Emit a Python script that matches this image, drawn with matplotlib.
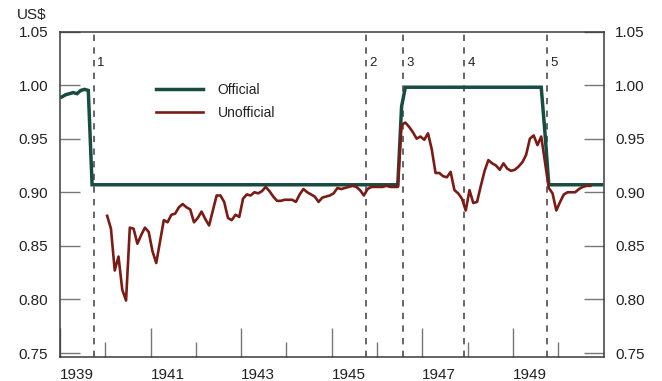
import numpy as np, matplotlib
matplotlib.use("Agg")
import matplotlib.pyplot as plt
from matplotlib.ticker import FixedLocator, NullFormatter

plt.rcParams["font.family"] = ["Liberation Sans", "DejaVu Sans"]

# official rate (US$ per C$), change points only, monthly (year, month)
off_months = [(1939,1),(1939,2),(1939,3),(1939,4),(1939,5),(1939,6),(1939,7),(1939,8),(1939,9),
              (1946,6),(1946,7),(1946,8),(1949,8),(1949,9),(1949,10),(1950,12)]
off_vals = [0.989,0.991,0.992,0.993,0.992,0.995,0.996,0.995,0.907,
            0.907,0.980,0.998,0.998,0.955,0.907,0.907]

# unofficial (free market) rate, monthly from Jan 1940
unoff_start = 1940
unoff_vals = [
    0.878,0.866,0.827,0.840,0.809,0.799,0.867,0.866,0.852,0.860,0.867,0.863,  # 1940
    0.845,0.834,0.854,0.874,0.872,0.879,0.880,0.886,0.889,0.886,0.884,0.872,  # 1941
    0.876,0.882,0.875,0.869,0.883,0.897,0.897,0.891,0.876,0.874,0.879,0.877,  # 1942
    0.894,0.898,0.897,0.900,0.899,0.901,0.905,0.901,0.896,0.892,0.892,0.893,  # 1943
    0.893,0.893,0.891,0.898,0.903,0.900,0.898,0.896,0.891,0.895,0.896,0.897,  # 1944
    0.899,0.904,0.903,0.904,0.905,0.906,0.905,0.902,0.897,0.903,0.905,0.905,  # 1945
    0.905,0.905,0.906,0.905,0.905,0.905,0.963,0.965,0.961,0.956,0.950,0.952,  # 1946
    0.949,0.955,0.940,0.918,0.918,0.915,0.914,0.919,0.902,0.899,0.894,0.883,  # 1947
    0.902,0.890,0.891,0.906,0.920,0.930,0.927,0.925,0.921,0.927,0.922,0.920,  # 1948
    0.921,0.924,0.928,0.935,0.950,0.953,0.944,0.952,0.928,0.904,0.899,0.883,  # 1949
    0.891,0.898,0.900,0.900,0.900,0.903,0.905,0.906,0.906]                    # 1950

events = [1939.74, 1945.75, 1946.58, 1947.92, 1949.76]
event_labels = ["1", "2", "3", "4", "5"]
yticks = [0.75, 0.80, 0.85, 0.90, 0.95, 1.00, 1.05]
major_years = [1939, 1941, 1943, 1945, 1947, 1949]
minor_years = [1940, 1942, 1944, 1946, 1948, 1950]

C_OFF = "#184c41"; C_UN = "#7a1c15"; C_DASH = "#5a5a5a"; C_AX = "#3a3a3a"; C_TXT = "#222222"

t_off = [y + (m - 0.5) / 12 for y, m in off_months]
t_un = unoff_start + (np.arange(len(unoff_vals)) + 0.5) / 12

fig = plt.figure(figsize=(6.62, 3.81), dpi=100)
ax = fig.add_axes([60/662, 1-357/381, 543.5/662, 325.5/381])
ax.set_xlim(1939, 1951); ax.set_ylim(0.7463, 1.05)

# event markers
for x in events:
    ax.axvline(x, color=C_DASH, lw=1.3, ls=(0, (3.5, 3.5)), zorder=1)
for x, s in zip(events, event_labels):
    ax.annotate(s, (x, 1.0205), xytext=(2.5, 0), textcoords="offset points",
                ha="left", va="center", fontsize=9.5, color=C_TXT)

ax.plot(t_off, off_vals, color=C_OFF, lw=2.5, label="Official", zorder=3, solid_joinstyle="miter")
ax.plot(t_un, unoff_vals, color=C_UN, lw=1.9, label="Unofficial", zorder=4)

for s in ax.spines.values():
    s.set_color(C_AX); s.set_linewidth(1.1)

ax.yaxis.set_major_locator(FixedLocator(yticks))
ax.set_yticklabels([f"{v:.2f}" for v in yticks])
ax.tick_params(axis="y", which="major", direction="in", length=14.5, width=1, color="#777777",
               labelsize=11, pad=8.5, left=True, right=True, labelleft=True, labelright=True,
               labelcolor=C_TXT)

ax.xaxis.set_major_locator(FixedLocator(major_years))
ax.xaxis.set_minor_locator(FixedLocator(minor_years))
ax.set_xticklabels([str(y) for y in major_years], ha="left")
ax.xaxis.set_minor_formatter(NullFormatter())
ax.tick_params(axis="x", which="major", direction="in", length=21, width=1, color="#777777",
               labelsize=11, pad=8, labelcolor=C_TXT)
ax.tick_params(axis="x", which="minor", direction="in", length=11, width=1, color="#777777")

fig.text(17/662, 1-15/381, "US$", ha="left", va="center", fontsize=11, color=C_TXT)

leg = ax.legend(loc="upper left", bbox_to_anchor=(156/662, 1-83/381), bbox_transform=fig.transFigure,
                frameon=False, fontsize=10, handlelength=3.4, handletextpad=1.05, labelspacing=0.62,
                borderpad=0, borderaxespad=0)
for t in leg.get_texts():
    t.set_color(C_TXT)

fig.savefig("out.png", dpi=100)
